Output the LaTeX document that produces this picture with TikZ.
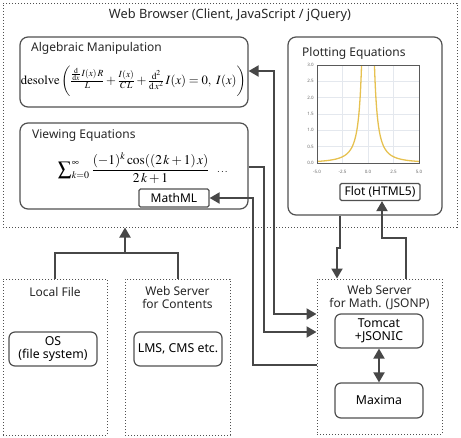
\documentclass[tikz,border=0pt]{standalone}
\usepackage{graphicx}
\usepackage{amsmath}
\usepackage{mathptmx}
\usepackage[no-math]{fontspec}
\setmainfont{Noto Sans}
\usetikzlibrary{arrows.meta,calc}
\definecolor{ln}{HTML}{474747}
\definecolor{bd}{HTML}{505050}
\definecolor{curve}{HTML}{E6C150}
\definecolor{grd}{HTML}{E4E8EE}
\begin{document}
\begin{tikzpicture}[x=1pt,y=-1pt,
  dotbox/.style={draw=bd,line width=1pt,dash pattern=on 1.1pt off 1.9pt,inner sep=0pt},
  bigbox/.style={draw=bd,line width=1.2pt,rounded corners=8pt,inner sep=0pt},
  smallbox/.style={draw=bd,line width=1.2pt,rounded corners=6pt,inner sep=0pt,align=center,font=\fontsize{12.3}{13.5}\selectfont},
  tagbox/.style={draw=bd,line width=1.2pt,rounded corners=1.5pt,inner sep=0pt,font=\fontsize{12}{13}\selectfont},
  ttl/.style={inner sep=0pt,font=\fontsize{12}{14}\selectfont,text=black!85},
  ttl2/.style={inner sep=0pt,font=\fontsize{12}{12.8}\selectfont,align=center,text=black!85},
  conn/.style={draw=ln,line width=2pt},
  arr/.style={conn,-{Triangle[length=10pt,width=11pt]}},
  darr/.style={conn,{Triangle[length=10pt,width=11pt]}-{Triangle[length=10pt,width=11pt]}},
  tick/.style={inner sep=0pt,font=\fontsize{4.5}{5}\selectfont,text=black!60}
]
\useasboundingbox (0,0) rectangle (461,437);

% browser
\node[dotbox,minimum width=454pt,minimum height=224pt] (browser) at (230,115) {};
\node[ttl,font=\fontsize{12.8}{14}\selectfont] (browsert) at (230,15) {Web Browser (Client, JavaScript / jQuery)};

% algebraic
\node[bigbox,minimum width=228pt,minimum height=70pt] (alg) at (134,72) {};
\node[ttl,anchor=west] (algt) at (31,48) {Algebraic Manipulation};
\node[inner sep=0pt] (algf) at (133.5,81) {\resizebox{225pt}{!}{\fontsize{16}{19}\selectfont$\mathrm{desolve}\left(\vrule height 15pt depth 15pt width 0pt\frac{\frac{\mathrm{d}}{\mathrm{d}x}\,I(x)\,R}{L}+\frac{I(x)}{C\,L}+\frac{\mathrm{d}^{2}}{\mathrm{d}\,x^{2}}\,I(x)=0,\ I(x)\right)$}};

% viewing
\node[bigbox,minimum width=228pt,minimum height=86pt] (view) at (134,166) {};
\node[ttl,anchor=west] (viewt) at (32,136) {Viewing Equations};
\node[inner sep=0pt] (viewf) at (134,168) {\resizebox{152pt}{!}{$\displaystyle\sum\nolimits_{k=0}^{\infty}\frac{(-1)^{k}\cos((2\,k+1)\,x)}{2\,k+1}$}};
\node[inner sep=0pt] (dots) at (223,172) {$\dots$};
\node[tagbox,minimum width=70pt,minimum height=18pt] (mathml) at (174,198) {MathML};

% plotting
\node[bigbox,minimum width=154pt,minimum height=178pt] (plot) at (365,126) {};
\node[ttl,anchor=west] (plott) at (302,53) {Plotting Equations};
\begin{scope}
  \foreach \g in {-2.5,0,2.5} \draw[grd,line width=0.6pt] ({368+10.2*\g},65) -- ({368+10.2*\g},163);
  \foreach \g in {0.5,1,1.5,2,2.5} \draw[grd,line width=0.6pt] (317,{163-32.67*\g}) -- (419,{163-32.67*\g});
  \begin{scope}
    \clip (317,65) rectangle (419,163);
    \draw[curve,line width=1.3pt,domain=0.55:5.2,samples=80,smooth] plot ({368+10.2*\x},{163-39.2/(\x*\x)});
    \draw[curve,line width=1.3pt,domain=0.55:5.2,samples=80,smooth] plot ({368-10.2*\x},{163-39.2/(\x*\x)});
  \end{scope}
  \draw[black!65,line width=0.8pt] (317,65) rectangle (419,163);
  \foreach \v/\l in {0/0.0,0.5/0.5,1/1.0,1.5/1.5,2/2.0,2.5/2.5,3/3.0}
    \node[tick,anchor=east] at (314,{163-32.67*\v}) {\l};
  \foreach \v/\l in {-5/-5.0,-2.5/-2.5,0/0.0,2.5/2.5,5/5.0}
    \node[tick] at ({368+10.2*\v},172) {\l};
\end{scope}
\node[tagbox,minimum width=80pt,minimum height=17pt] (flot) at (380,192) {Flot (HTML5)};

% bottom left
\node[dotbox,minimum width=104pt,minimum height=156pt] (local) at (55,357) {};
\node[ttl2] (localt) at (55,292) {Local File};
\node[smallbox,minimum width=88pt,minimum height=34pt] (os) at (53,349) {OS\\(file system)};
\node[dotbox,minimum width=105pt,minimum height=156pt] (wsc) at (177.5,357) {};
\node[ttl2] (wsct) at (177.5,297.5) {Web Server\\for Contents};
\node[smallbox,minimum width=88pt,minimum height=34pt] (lms) at (178,349) {LMS, CMS etc.};

% math server
\node[dotbox,minimum width=125pt,minimum height=155pt] (wsm) at (379.5,356.5) {};
\node[ttl2] (wsmt) at (379.5,297.5) {Web Server\\for Math. (JSONP)};
\node[smallbox,minimum width=88pt,minimum height=34pt] (tomcat) at (379,331) {Tomcat\\+JSONIC};
\node[smallbox,minimum width=88pt,minimum height=35pt] (maxima) at (379,400.5) {Maxima};

% connectors
\coordinate (j) at (125,253);
\draw[conn] (local.north) |- (j) -| (wsc.north);
\draw[arr] (j) -- (j |- browser.south);

\draw[arr] (plot.south -| 340,0) -- (340,248) -- (337,248) -- (wsm.north -| 337,0);
\draw[arr] (wsm.north -| 406,0) -- (406,238) -- (382,238) -- (flot.south -| 382,0);

\draw[darr] (alg.east |- 0,71) -- (274,71) -- (274,314) -- (wsm.west |- 0,314);
\draw[arr] (view.east |- 0,167) -- (264,167) -- (264,332) -- (wsm.west |- 0,332);
\draw[arr] (wsm.west |- 0,365) -- (253,365) -- (253,198) -- (mathml.east);

\draw[darr] (tomcat.south) -- (maxima.north);
\end{tikzpicture}
\end{document}
